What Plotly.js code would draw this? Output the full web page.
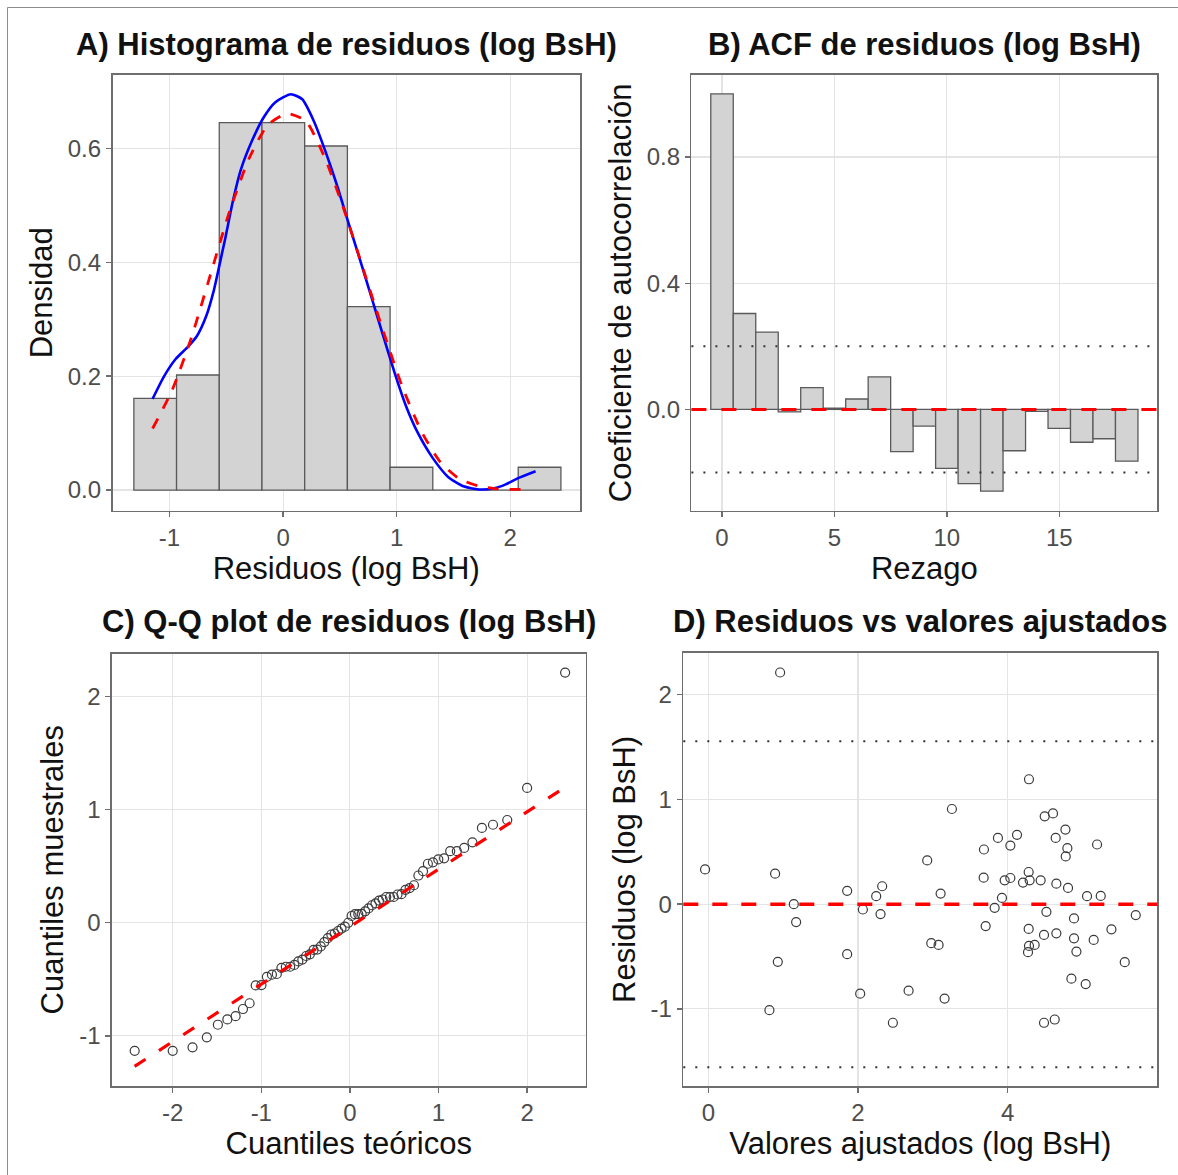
<!DOCTYPE html>
<html>
<head>
<meta charset="utf-8">
<script src="https://cdn.plot.ly/plotly-3.0.1.min.js"></script>
<style>html,body{margin:0;padding:0;background:#fff;}#chart{width:1178px;height:1175px;}</style>
</head>
<body>
<div id="chart"></div>
<script>
// ---------- Panel A: histogram of residuals ----------
const histCenters = [-1.126, -0.750, -0.374, 0.002, 0.378, 0.754, 1.130, 1.506, 1.882, 2.258];
const histDensity = [0.161, 0.202, 0.645, 0.645, 0.604, 0.322, 0.040, 0, 0, 0.040];
const histBinWidth = 0.376;
const kdeX = [-1.149, -1.047, -0.946, -0.845, -0.76, -0.676, -0.608, -0.557, -0.507, -0.439, -0.372, -0.27, -0.169, -0.068, 0.068, 0.169, 0.27, 0.372, 0.473, 0.574, 0.676, 0.777, 0.878, 0.98, 1.081, 1.182, 1.318, 1.453, 1.588, 1.723, 1.858, 1.96, 2.06, 2.223];
const kdeY = [0.16, 0.20, 0.230, 0.25, 0.27, 0.306, 0.352, 0.398, 0.444, 0.51, 0.5625, 0.615, 0.655, 0.681, 0.695, 0.686, 0.648, 0.595, 0.536, 0.47, 0.405, 0.339, 0.273, 0.207, 0.148, 0.102, 0.056, 0.023, 0.0066, 0.001, 0.003, 0.01, 0.02, 0.033];
const normX = [-1.149, -0.98, -0.81, -0.64, -0.47, -0.30, -0.135, 0.034, 0.20, 0.37, 0.54, 0.71, 0.88, 1.05, 1.22, 1.385, 1.55, 1.72, 1.89, 2.18];
const normY = [0.108, 0.174, 0.266, 0.378, 0.49, 0.582, 0.641, 0.661, 0.648, 0.582, 0.49, 0.385, 0.28, 0.181, 0.102, 0.049, 0.02, 0.007, 0.002, 0.001];

// ---------- Panel B: ACF ----------
const acfLags = [0, 1, 2, 3, 4, 5, 6, 7, 8, 9, 10, 11, 12, 13, 14, 15, 16, 17, 18];
const acfValues = [1.0, 0.304, 0.245, -0.008, 0.069, 0.004, 0.033, 0.103, -0.134, -0.053, -0.187, -0.235, -0.259, -0.131, -0.006, -0.060, -0.104, -0.093, -0.164];
const acfLimit = 0.2;

// ---------- Panel D: residuals vs fitted ----------
const fitted = [0.959, -0.044, 0.892, 1.142, 1.173, 0.928, 0.816, 1.855, 1.855, 2.065,
  2.029, 2.243, 2.323, 2.301, 2.466, 2.676, 2.925, 3.104, 2.979, 3.077,
  3.157, 3.255, 3.683, 3.679, 3.706, 3.826, 3.924, 3.870, 4.036, 4.125,
  3.960, 4.036, 4.205, 4.281, 4.294, 4.441, 4.285, 4.495, 4.606, 4.642,
  4.772, 4.798, 4.776, 4.651, 4.807, 4.518, 4.281, 4.486, 4.651, 4.285,
  4.361, 4.272, 4.887, 4.887, 4.919, 4.852, 5.043, 5.150, 5.061, 5.244,
  5.195, 5.387, 5.565, 5.712, 4.486, 4.629];
const residuals = [2.213, 0.332, 0.291, 0.000, -0.171, -0.551, -1.013, 0.127, -0.478, -0.051,
  -0.855, 0.076, 0.171, -0.095, -1.133, -0.826, 0.418, 0.101, -0.373, -0.389,
  -0.902, 0.909, 0.522, 0.253, -0.209, -0.035, 0.060, 0.633, 0.560, 0.662,
  0.228, 0.250, 0.206, 0.307, 0.228, 0.228, 1.193, 0.839, 0.867, 0.633,
  0.712, 0.535, 0.456, 0.196, 0.155, -0.073, -0.237, -0.294, -0.279, -0.399,
  -0.389, -0.459, -0.136, -0.326, -0.453, -0.712, -0.763, -0.342, 0.076, 0.079,
  0.570, -0.240, -0.554, -0.104, -1.133, -1.102];
const residLimit = 1.557;

// ---------- Panel C: Q-Q ----------
const theoQuantiles = [-2.429, -2.000, -1.776, -1.615, -1.490, -1.383, -1.290, -1.207, -1.132, -1.063,
  -0.998, -0.937, -0.880, -0.825, -0.773, -0.723, -0.674, -0.627, -0.582, -0.537,
  -0.494, -0.452, -0.410, -0.369, -0.329, -0.289, -0.249, -0.210, -0.172, -0.133,
  -0.095, -0.057, -0.019, 0.019, 0.057, 0.095, 0.133, 0.172, 0.210, 0.249,
  0.289, 0.329, 0.369, 0.410, 0.452, 0.494, 0.537, 0.582, 0.627, 0.674,
  0.723, 0.773, 0.825, 0.880, 0.937, 0.998, 1.063, 1.132, 1.207, 1.290,
  1.383, 1.490, 1.615, 1.776, 2.000, 2.429];
const sampleQuantiles = residuals.slice().sort((a, b) => a - b);
const qqLineX = [-2.43, 2.43];
const qqLineY = [-1.27, 1.20];

// ---------- tick labels ----------
const tickA_x = [-1, 0, 1, 2], tickA_xt = ['-1', '0', '1', '2'];
const tickA_y = [0, 0.2, 0.4, 0.6], tickA_yt = ['0.0', '0.2', '0.4', '0.6'];
const tickB_x = [0, 5, 10, 15], tickB_xt = ['0', '5', '10', '15'];
const tickB_y = [0, 0.4, 0.8], tickB_yt = ['0.0', '0.4', '0.8'];
const tickC_x = [-2, -1, 0, 1, 2], tickC_xt = ['-2', '-1', '0', '1', '2'];
const tickC_y = [-1, 0, 1, 2], tickC_yt = ['-1', '0', '1', '2'];
const tickD_x = [0, 2, 4], tickD_xt = ['0', '2', '4'];
const tickD_y = [-1, 0, 1, 2], tickD_yt = ['-1', '0', '1', '2'];

const FONT = 'Liberation Sans, Arial, Helvetica, sans-serif';
const W = 1178, H = 1175;
const px = v => v / W;
const py = v => 1 - v / H;

const barFill = '#d3d3d3', barLine = '#5a5a5a';
const ptColor = '#3a3a3a';

const traces = [
  {type: 'bar', x: histCenters, y: histDensity, width: histBinWidth, xaxis: 'x', yaxis: 'y',
   marker: {color: barFill, line: {color: barLine, width: 1.3}}, hoverinfo: 'skip'},
  {type: 'scatter', mode: 'lines', x: kdeX, y: kdeY, xaxis: 'x', yaxis: 'y',
   line: {color: '#0000ff', width: 2.6, shape: 'spline', smoothing: 0.6}},
  {type: 'scatter', mode: 'lines', x: normX, y: normY, xaxis: 'x', yaxis: 'y',
   line: {color: '#ff0000', width: 2.8, dash: '11px,11px', shape: 'spline', smoothing: 0.6}},
  {type: 'bar', x: acfLags, y: acfValues, width: 1, xaxis: 'x2', yaxis: 'y2',
   marker: {color: barFill, line: {color: barLine, width: 1.3}}},
  {type: 'scatter', mode: 'markers', x: theoQuantiles, y: sampleQuantiles, xaxis: 'x3', yaxis: 'y3',
   marker: {symbol: 'circle-open', size: 9, color: ptColor, line: {width: 1.2}}},
  {type: 'scatter', mode: 'lines', x: qqLineX, y: qqLineY, xaxis: 'x3', yaxis: 'y3',
   line: {color: '#ff0000', width: 3.2, dash: '13px,16px'}},
  {type: 'scatter', mode: 'markers', x: fitted, y: residuals, xaxis: 'x4', yaxis: 'y4',
   marker: {symbol: 'circle-open', size: 9, color: ptColor, line: {width: 1.2}}}
];

function axis(domain, range, tv, tt, anchor, title, standoff) {
  return {
    domain: domain, range: range, anchor: anchor,
    tickmode: 'array', tickvals: tv, ticktext: tt,
    showgrid: true, gridcolor: '#e4e4e4', gridwidth: 1.1,
    zeroline: false, showline: true, mirror: true, linecolor: '#6e6e6e', linewidth: 1.6,
    ticks: 'outside', ticklen: 5, tickwidth: 1.4, tickcolor: '#6e6e6e',
    tickfont: {family: FONT, size: 24, color: '#4d4d4d'},
    title: {text: title, font: {family: FONT, size: 31, color: '#111'}, standoff: standoff},
    automargin: false, fixedrange: true
  };
}

const layout = {
  width: W, height: H,
  margin: {l: 0, r: 0, t: 0, b: 0},
  paper_bgcolor: '#fff', plot_bgcolor: '#fff',
  showlegend: false, bargap: 0,
  font: {family: FONT},
  xaxis: axis([px(112.5), px(580)], [-1.502, 2.614], tickA_x, tickA_xt, 'y', 'Residuos (log BsH)', 2),
  yaxis: axis([py(510.7), py(75)], [-0.0363, 0.7287], tickA_y, tickA_yt, 'x', 'Densidad', 6),
  xaxis2: axis([px(691.4), px(1157.3)], [-1.362, 19.36], tickB_x, tickB_xt, 'y2', 'Rezago', 2),
  yaxis2: axis([py(510.7), py(75)], [-0.321, 1.060], tickB_y, tickB_yt, 'x2', 'Coeficiente de autocorrelación', 6),
  xaxis3: axis([px(112), px(585.5)], [-2.685, 2.659], tickC_x, tickC_xt, 'y3', 'Cuantiles teóricos', 2),
  yaxis3: axis([py(1086), py(653.5)], [-1.444, 2.382], tickC_y, tickC_yt, 'x3', 'Cuantiles muestrales', 6),
  xaxis4: axis([px(683.3), px(1157.3)], [-0.335, 6.0], tickD_x, tickD_xt, 'y4', 'Valores ajustados (log BsH)', 2),
  yaxis4: axis([py(1086), py(652.7)], [-1.737, 2.402], tickD_y, tickD_yt, 'x4', 'Residuos (log BsH)', 6),
  shapes: [
    {type: 'line', xref: 'x2 domain', yref: 'y2', x0: 0, x1: 1, y0: acfLimit, y1: acfLimit,
     line: {color: '#333', width: 2, dash: '2px,10px'}},
    {type: 'line', xref: 'x2 domain', yref: 'y2', x0: 0, x1: 1, y0: -acfLimit, y1: -acfLimit,
     line: {color: '#333', width: 2, dash: '2px,10px'}},
    {type: 'line', xref: 'x2 domain', yref: 'y2', x0: 0, x1: 1, y0: 0, y1: 0,
     line: {color: '#ff0000', width: 3, dash: '15px,15px'}},
    {type: 'line', xref: 'x4 domain', yref: 'y4', x0: 0, x1: 1, y0: residLimit, y1: residLimit,
     line: {color: '#333', width: 2, dash: '2px,10px'}},
    {type: 'line', xref: 'x4 domain', yref: 'y4', x0: 0, x1: 1, y0: -residLimit, y1: -residLimit,
     line: {color: '#333', width: 2, dash: '2px,10px'}},
    {type: 'line', xref: 'x4 domain', yref: 'y4', x0: 0, x1: 1, y0: 0, y1: 0,
     line: {color: '#ff0000', width: 3.5, dash: '15px,14px'}},
    {type: 'line', xref: 'paper', yref: 'paper', x0: px(7.5), x1: 1.01, y0: py(7.5), y1: py(7.5),
     line: {color: '#8c8c8c', width: 1}},
    {type: 'line', xref: 'paper', yref: 'paper', x0: px(7.5), x1: px(7.5), y0: py(7.5), y1: -0.01,
     line: {color: '#8c8c8c', width: 1}}
  ],
  annotations: [
    {text: '<b>A) Histograma de residuos (log BsH)</b>', x: px(346.25), y: py(45), xref: 'paper', yref: 'paper',
     xanchor: 'center', yanchor: 'middle', showarrow: false, font: {family: FONT, size: 31, color: '#111'}},
    {text: '<b>B) ACF de residuos (log BsH)</b>', x: px(924.3), y: py(45), xref: 'paper', yref: 'paper',
     xanchor: 'center', yanchor: 'middle', showarrow: false, font: {family: FONT, size: 31, color: '#111'}},
    {text: '<b>C) Q-Q plot de residuos (log BsH)</b>', x: px(348.75), y: py(621), xref: 'paper', yref: 'paper',
     xanchor: 'center', yanchor: 'middle', showarrow: false, font: {family: FONT, size: 31, color: '#111'}},
    {text: '<b>D) Residuos vs valores ajustados</b>', x: px(920.3), y: py(621), xref: 'paper', yref: 'paper',
     xanchor: 'center', yanchor: 'middle', showarrow: false, font: {family: FONT, size: 31, color: '#111'}}
  ]
};

Plotly.newPlot('chart', traces, layout, {staticPlot: true, displayModeBar: false});
</script>
</body>
</html>
